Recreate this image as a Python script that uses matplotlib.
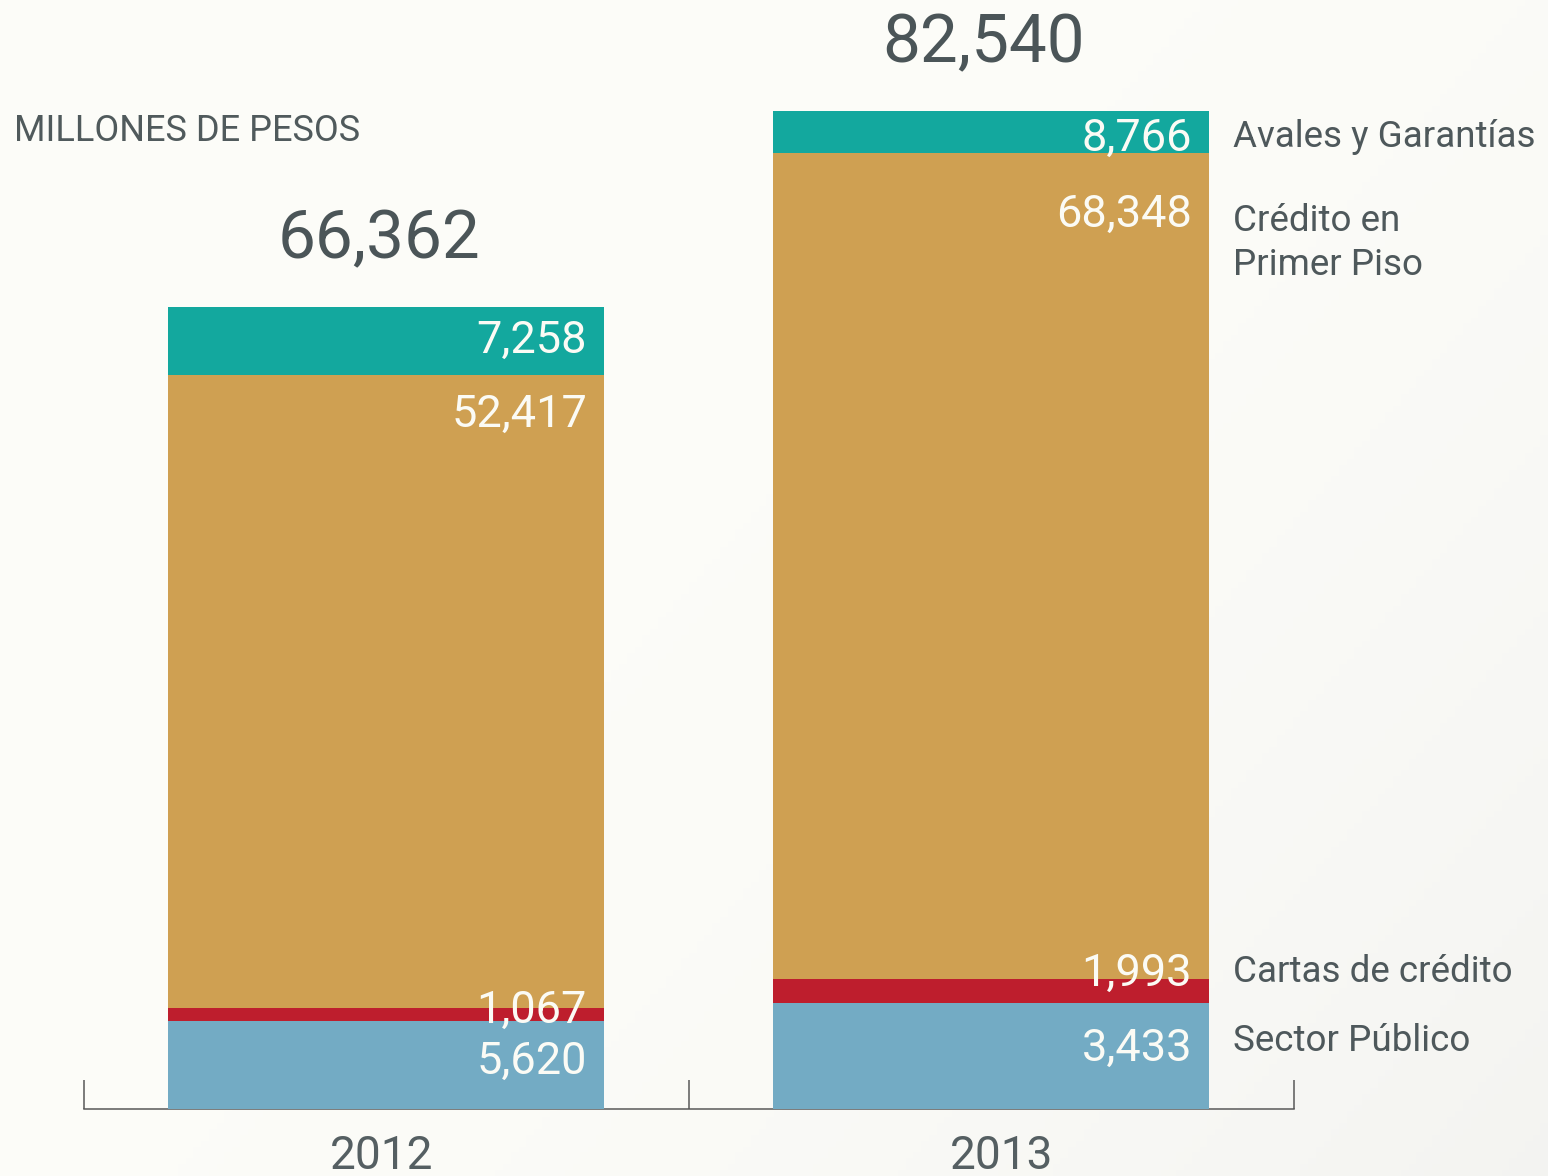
import matplotlib
matplotlib.use('Agg')
import matplotlib.pyplot as plt
import numpy as np

# ---------------- data ----------------
years = ['2012', '2013']
totals = [66362, 82540]
sector_publico = [5620, 3433]
cartas_credito = [1067, 1993]
credito_primer_piso = [52417, 68348]
avales_garantias = [7258, 8766]
series_names = ['Sector Público', 'Cartas de crédito', 'Crédito en\nPrimer Piso', 'Avales y Garantías']

# The reference draws the bottom (blue) and top (teal) segments with each
# other's sizes while printing the labelled values; reproduce it as drawn.
drawn = [avales_garantias, cartas_credito, credito_primer_piso, sector_publico]
printed = [sector_publico, cartas_credito, credito_primer_piso, avales_garantias]
colors = ['#73abc4', '#be1e2d', '#cfa052', '#13a89e']

# ---------------- layout ----------------
FONT = ['Roboto', 'DejaVu Sans']
plt.rcParams['font.family'] = FONT
W, H, DPI = 1548, 1176, 100
PT = 72 / DPI  # points per pixel

fig = plt.figure(figsize=(W / DPI, H / DPI), dpi=DPI, facecolor='#fbfbf7')

# subtle background gradient
bg = fig.add_axes([0, 0, 1, 1], zorder=-10)
gx, gy = np.meshgrid(np.linspace(0, 1, 200), np.linspace(0, 1, 200))
g = np.clip((gx * 0.6 + gy * 0.4), 0, 1) ** 3
c0 = np.array([0.992, 0.992, 0.976])
c1 = np.array([0.955, 0.955, 0.945])
img = c0[None, None, :] * (1 - g[..., None]) + c1[None, None, :] * g[..., None]
bg.imshow(img, aspect='auto', extent=[0, 1, 0, 1], origin='upper')
bg.axis('off')

base_px = 1109
ax = fig.add_axes([0, (H - base_px) / H, 1, base_px / H])
ax.set_facecolor('none')
bar_px = 998
ax.set_ylim(0, max(totals) * base_px / bar_px)
step, cx0 = 605, 386
ax.set_xlim(-cx0 / step, (W - cx0) / step)

x = np.arange(len(years))
width = 436 / step
bottom = np.zeros(len(years))
bars = []
for h, c in zip(drawn, colors):
    b = ax.bar(x, h, width, bottom=bottom, color=c, zorder=3, linewidth=0)
    bars.append(b)
    bottom += np.array(h, dtype=float)

# axis: bottom spine with bracket ticks
for s in ['top', 'left', 'right']:
    ax.spines[s].set_visible(False)
ax.spines['bottom'].set_bounds(-0.5, len(years) - 0.5)
ax.spines['bottom'].set_color('#555555')
ax.spines['bottom'].set_linewidth(1.5 * PT)
ax.spines['bottom'].set_zorder(2)
ax.set_xticks(np.arange(len(years) + 1) - 0.5)
ax.tick_params(axis='x', direction='in', length=29 * PT, width=1.5 * PT,
               color='#555555', labelbottom=False)
ax.set_yticks([])

# segment value labels (white, right-aligned inside bars); offsets in px
seg_dy = [[-37, -42], [1, 9], [-36, -58], [-30, -24]]  # label centre vs segment top
for i in range(len(drawn)):
    for j in range(len(years)):
        r = bars[i][j]
        top = r.get_y() + r.get_height()
        right = r.get_x() + r.get_width()
        ax.annotate(f'{printed[i][j]:,}', xy=(right, top),
                    xytext=(-17 * PT, (seg_dy[i][j] - 16) * PT),
                    textcoords='offset points', ha='right', va='baseline',
                    color='#fbfbf5', fontsize=32.5, zorder=5)

# totals above bars
for j in range(len(years)):
    ax.annotate(f'{totals[j]:,}', xy=(x[j], totals[j]),
                xytext=(-7 * PT, 48.5 * PT), textcoords='offset points',
                ha='center', va='baseline', color='#4b5558', fontsize=48.5)

# year labels
year_dx = [-4, 11]
for j in range(len(years)):
    ax.annotate(years[j], xy=(x[j], 0), xytext=(year_dx[j] * PT, -60 * PT),
                textcoords='offset points', ha='center', va='baseline',
                color='#555f62', fontsize=33, annotation_clip=False)

# series names on the right (next to last bar)
name_base_px = [1051, 982, 231, 147]  # baselines (pixels from top)
for name, ypx in zip(series_names, name_base_px):
    first, *rest = name.split('\n')
    fig.text(1233 / W, 1 - ypx / H, first, ha='left', va='baseline',
             color='#4e585b', fontsize=26.5)
    for k, line in enumerate(rest, start=1):
        fig.text(1233 / W, 1 - (ypx + 44 * k) / H, line, ha='left', va='baseline',
                 color='#4e585b', fontsize=26.5)

# unit label
fig.text(14 / W, 1 - 141 / H, 'MILLONES DE PESOS', ha='left', va='baseline',
         color='#505a5c', fontsize=26)

fig.savefig('out.png', dpi=DPI, facecolor=fig.get_facecolor())
